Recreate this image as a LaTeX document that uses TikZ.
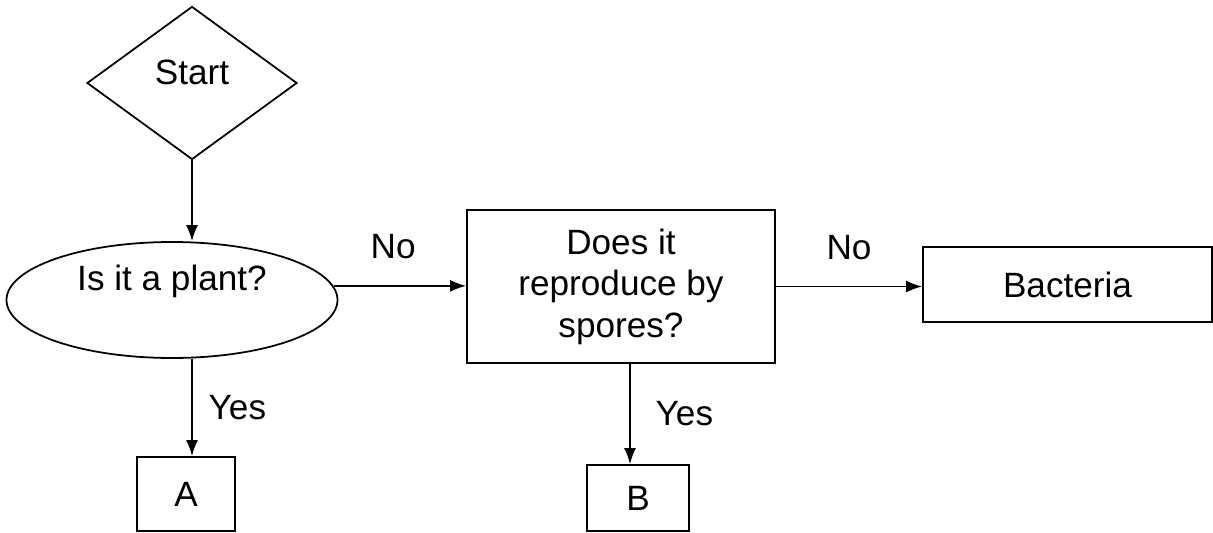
\documentclass[tikz,border=0pt]{standalone}
\usepackage{fontspec}
\setmainfont{Liberation Sans}
\usepackage{tikz}
\usetikzlibrary{arrows.meta,shapes.geometric}

\begin{document}
\begin{tikzpicture}[line width=1pt, font=\fontsize{20}{23.6}\selectfont]
	
	\tikzset{box/.style = {shape=rectangle,draw,inner sep=0pt}}
	\tikzset{decision/.style = {shape=diamond,draw,inner sep=0pt,text depth=12.5pt}}
	\tikzset{question/.style = {shape=ellipse,draw,inner sep=0pt,text depth=25pt}}
	\tikzset{edge/.style = {-{Latex[length=0.32cm,width=0.24cm]}}}
	
	\useasboundingbox (0,0) rectangle (24.26,-10.66);
	
	\node[decision,minimum width=4.2cm,minimum height=3.06cm] (start) at (3.84,-1.66) {Start};
	\node[question,minimum width=6.62cm,minimum height=2.32cm] (plant) at (3.44,-6.00) {Is it a plant?};
	\node[box,minimum width=6.16cm,minimum height=3.06cm,align=center] (spores) at (12.42,-5.73) {Does it\\reproduce by\\spores?};
	\node[box,minimum width=5.78cm,minimum height=1.5cm] (bact) at (21.35,-5.69) {Bacteria};
	\node[box,minimum width=1.96cm,minimum height=1.48cm] (a) at (3.72,-9.88) {A};
	\node[box,minimum width=2.04cm,minimum height=1.32cm] (b) at (12.76,-9.96) {B};
	
	\draw[edge] (start.south) to (plant.north -| start.south);
	\draw[edge] (plant.5) to node[pos=0.45,above=0.4cm] {No} (plant.5 -| spores.west);
	\draw[edge] (spores.east) to node[midway,above=0.4cm] {No} (spores.east -| bact.west);
	\draw[edge] (plant.south -| start.south) to node[midway,right=0.2cm] {Yes} (a.north -| start.south);
	\draw[edge] ([xshift=0.18cm]spores.south) to node[midway,right=0.38cm] {Yes} ([xshift=-0.16cm]b.north);
	\end{tikzpicture}
\end{document}
